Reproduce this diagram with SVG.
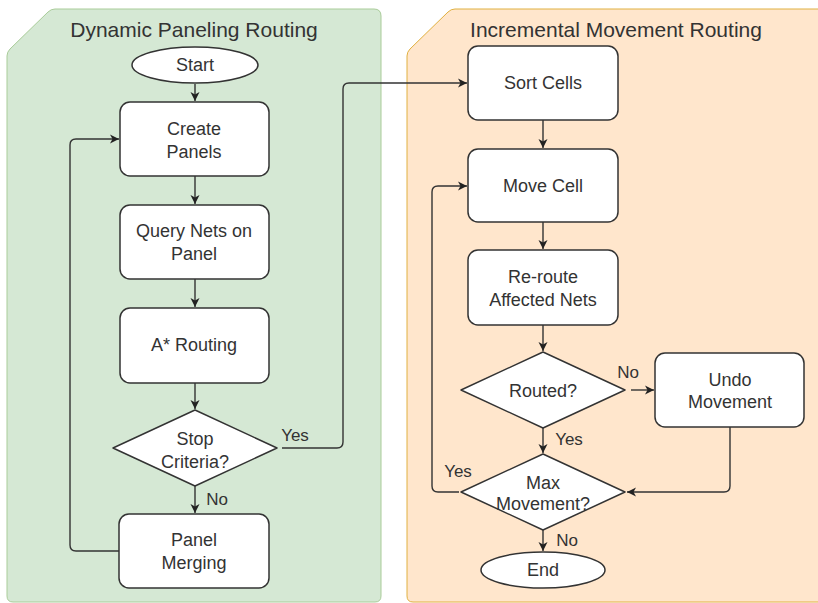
<svg xmlns="http://www.w3.org/2000/svg" width="818" height="603" viewBox="0 0 818 603">
<style>
text{font-family:"Liberation Sans",Arial,sans-serif;fill:#333;text-anchor:middle}
.t{font-size:18px}
.h{font-size:21px}
.l{font-size:17px}
.n{fill:#fff;stroke:#333;stroke-width:1.5}
.c{fill:none;stroke:#333;stroke-width:1.4}
</style>
<defs>
<marker id="a" markerUnits="userSpaceOnUse" markerWidth="12" markerHeight="12" refX="10" refY="6" orient="auto">
<path d="M1,1.5 L10,6 L1,10.5 L3.5,6 Z" fill="#222"/>
</marker>
</defs>
<g id="panel-left">
<path d="M7,56 Q7,52 10,49 L48,12 Q51,9 55,9 H374 Q381,9 381,16 V596 Q381,602 375,602 H13 Q7,602 7,596 Z" fill="#d5e8d4" stroke="#a9cc99" stroke-width="1"/>
<text class="h" x="194" y="37">Dynamic Paneling Routing</text>
</g>
<g id="panel-right">
<path d="M407,56 Q407,52 410,49 L448,12 Q451,9 455,9 H830 V602 H413 Q407,602 407,596 Z" fill="#ffe6cc" stroke="#e0b040" stroke-width="1"/>
<text class="h" x="616" y="37">Incremental Movement Routing</text>
</g>
<g id="connectors">
<path class="c" d="M195,84 V101" marker-end="url(#a)"/>
<path class="c" d="M195,176 V204" marker-end="url(#a)"/>
<path class="c" d="M195,279 V307" marker-end="url(#a)"/>
<path class="c" d="M195,383 V409" marker-end="url(#a)"/>
<path class="c" d="M195,486 V513" marker-end="url(#a)"/>
<path class="c" d="M119,551 H76 Q70,551 70,545 V145 Q70,139 76,139 H119" marker-end="url(#a)"/>
<path class="c" d="M282,448 H337 Q343,448 343,442 V89 Q343,83 349,83 H467" marker-end="url(#a)"/>
<path class="c" d="M543,120 V148" marker-end="url(#a)"/>
<path class="c" d="M543,222 V249" marker-end="url(#a)"/>
<path class="c" d="M543,325 V351" marker-end="url(#a)"/>
<path class="c" d="M543,428 V453" marker-end="url(#a)"/>
<path class="c" d="M631,390 H654" marker-end="url(#a)"/>
<path class="c" d="M730,427 V486 Q730,492 724,492 H627" marker-end="url(#a)"/>
<path class="c" d="M459,492 H438 Q432,492 432,486 V192 Q432,186 438,186 H467" marker-end="url(#a)"/>
<path class="c" d="M543,530 V551" marker-end="url(#a)"/>
<text class="l" x="295" y="441">Yes</text>
<text class="l" x="217" y="505">No</text>
<text class="l" x="628" y="378">No</text>
<text class="l" x="569" y="445">Yes</text>
<text class="l" x="458" y="477">Yes</text>
<text class="l" x="567" y="546">No</text>
</g>
<g id="start">
<ellipse class="n" cx="195" cy="65" rx="63" ry="18"/>
<text class="t" x="195" y="71">Start</text>
</g>
<g id="create-panels">
<rect class="n" x="120" y="102" width="149" height="74" rx="10"/>
<text class="t" x="194" y="135">Create</text>
<text class="t" x="194" y="158">Panels</text>
</g>
<g id="query-nets">
<rect class="n" x="120" y="205" width="149" height="74" rx="10"/>
<text class="t" x="194" y="237">Query Nets on</text>
<text class="t" x="194" y="260">Panel</text>
</g>
<g id="a-star">
<rect class="n" x="120" y="308" width="149" height="75" rx="10"/>
<text class="t" x="194" y="351">A* Routing</text>
</g>
<g id="stop-criteria">
<path class="n" d="M195,410 L277,448 L195,486 L113,448 Z" stroke-linejoin="round"/>
<text class="t" x="195" y="445">Stop</text>
<text class="t" x="195" y="468">Criteria?</text>
</g>
<g id="panel-merging">
<rect class="n" x="119" y="514" width="150" height="74" rx="10"/>
<text class="t" x="194" y="546">Panel</text>
<text class="t" x="194" y="569">Merging</text>
</g>
<g id="sort-cells">
<rect class="n" x="468" y="46" width="150" height="74" rx="10"/>
<text class="t" x="543" y="89">Sort Cells</text>
</g>
<g id="move-cell">
<rect class="n" x="468" y="149" width="150" height="73" rx="10"/>
<text class="t" x="543" y="192">Move Cell</text>
</g>
<g id="re-route">
<rect class="n" x="468" y="250" width="150" height="75" rx="10"/>
<text class="t" x="543" y="283">Re-route</text>
<text class="t" x="543" y="306">Affected Nets</text>
</g>
<g id="routed">
<path class="n" d="M543,352 L625,390 L543,428 L461,390 Z" stroke-linejoin="round"/>
<text class="t" x="543" y="397">Routed?</text>
</g>
<g id="undo-movement">
<rect class="n" x="655" y="353" width="149" height="74" rx="10"/>
<text class="t" x="730" y="386">Undo</text>
<text class="t" x="730" y="408">Movement</text>
</g>
<g id="max-movement">
<path class="n" d="M543,454 L625,492 L543,530 L461,492 Z" stroke-linejoin="round"/>
<text class="t" x="543" y="489">Max</text>
<text class="t" x="543" y="510">Movement?</text>
</g>
<g id="end">
<ellipse class="n" cx="543" cy="570" rx="62" ry="18"/>
<text class="t" x="543" y="576">End</text>
</g>
</svg>
